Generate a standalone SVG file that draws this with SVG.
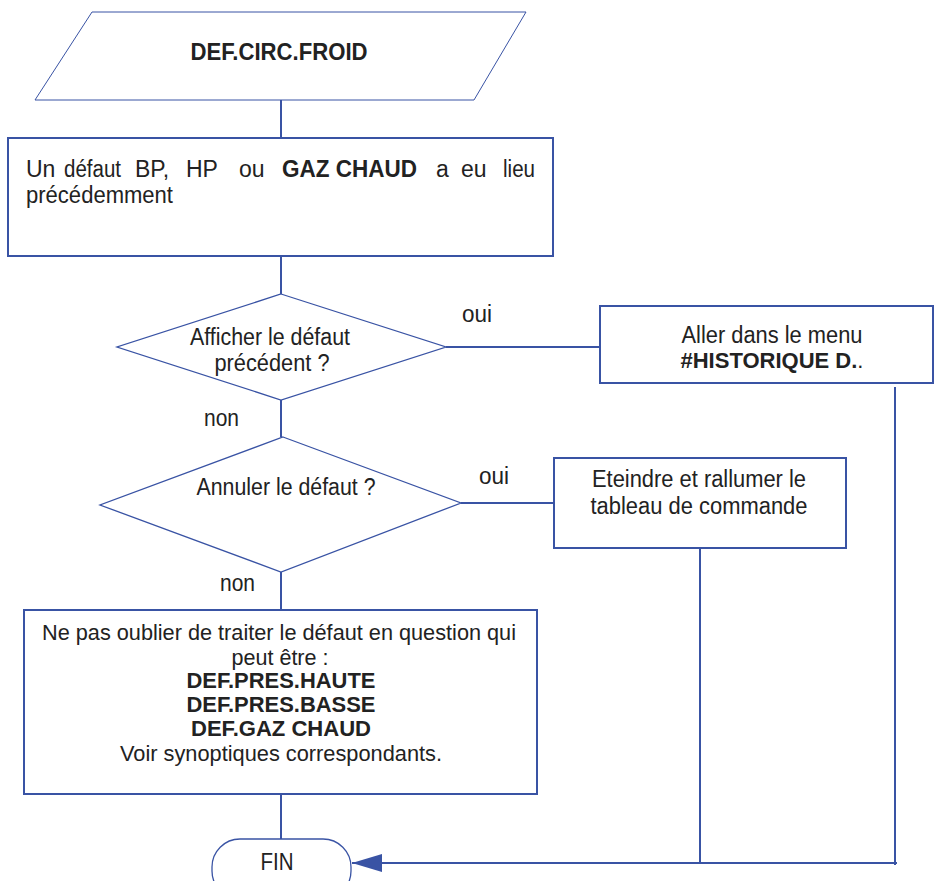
<svg xmlns="http://www.w3.org/2000/svg" width="934" height="881" viewBox="0 0 934 881">
  <style>
    .shape { fill: #ffffff; stroke: #3953a4; stroke-width: 2; }
    .thin { fill: #ffffff; stroke: #3953a4; stroke-width: 1.3; }
    .wire { fill: none; stroke: #3953a4; stroke-width: 2; }
    text { font-family: "Liberation Sans", Arial, sans-serif; font-size: 23px; fill: #222222; }
    .b { font-weight: bold; }
    .c { text-anchor: middle; }
    .s { font-size: 22px; }
  </style>
  <defs>
    <marker id="arrow" markerUnits="userSpaceOnUse" markerWidth="31" markerHeight="20" refX="30" refY="10" orient="auto">
      <path d="M0,1 L30,10 L0,19 Z" fill="#3953a4"/>
    </marker>
  </defs>

  <!-- connectors -->
  <g id="connectors">
    <line class="wire" x1="281" y1="100" x2="281" y2="138"/>
    <line class="wire" x1="281" y1="256" x2="281" y2="294"/>
    <line class="wire" x1="446" y1="347" x2="600" y2="347"/>
    <line class="wire" x1="281" y1="400" x2="281" y2="437"/>
    <line class="wire" x1="461" y1="503" x2="554" y2="503"/>
    <line class="wire" x1="281" y1="572" x2="281" y2="610"/>
    <line class="wire" x1="281" y1="794" x2="281" y2="839"/>
    <line class="wire" x1="700" y1="548" x2="700" y2="863"/>
    <line class="wire" x1="895" y1="387" x2="895" y2="865"/>
    <line class="wire" x1="897" y1="863" x2="352" y2="863" marker-end="url(#arrow)"/>
  </g>

  <!-- start: input parallelogram -->
  <g id="start">
    <polygon points="92,12 526,12 474,100 35,100" fill="#ffffff" stroke="#3953a4" stroke-width="1"/>
    <text class="b c" x="279" y="60" textLength="177" lengthAdjust="spacingAndGlyphs">DEF.CIRC.FROID</text>
  </g>

  <!-- previous fault statement -->
  <g id="previous-fault">
    <rect class="shape" x="8" y="138" width="545" height="118"/>
    <text x="26" y="177">Un</text>
    <text x="64" y="177" textLength="57" lengthAdjust="spacingAndGlyphs">défaut</text>
    <text x="135" y="177">BP,</text>
    <text x="186" y="177">HP</text>
    <text x="239" y="177">ou</text>
    <text class="b" x="282" y="177" textLength="135" lengthAdjust="spacingAndGlyphs">GAZ CHAUD</text>
    <text x="436" y="177">a</text>
    <text x="461" y="177">eu</text>
    <text x="503" y="177" textLength="32" lengthAdjust="spacingAndGlyphs">lieu</text>
    <text x="26" y="203" textLength="147" lengthAdjust="spacingAndGlyphs">précédemment</text>
  </g>

  <!-- decision: show previous fault -->
  <g id="ask-show">
    <polygon class="thin" points="281,294 446,347 281,400 117,347"/>
    <text class="c" x="270" y="345" textLength="160" lengthAdjust="spacingAndGlyphs">Afficher le défaut</text>
    <text class="c" x="272" y="371" textLength="115" lengthAdjust="spacingAndGlyphs">précédent ?</text>
  </g>
  <text x="462" y="322" textLength="30" lengthAdjust="spacingAndGlyphs">oui</text>
  <text x="204" y="426" textLength="35" lengthAdjust="spacingAndGlyphs">non</text>

  <!-- go to history menu -->
  <g id="history-menu">
    <rect class="shape" x="600" y="306" width="333" height="77"/>
    <text class="c" x="772" y="343" textLength="181" lengthAdjust="spacingAndGlyphs">Aller dans le menu</text>
    <text class="c s" x="772" y="368"><tspan class="b">#HISTORIQUE D.</tspan>.</text>
  </g>

  <!-- decision: cancel fault -->
  <g id="ask-cancel">
    <polygon class="thin" points="283,437 461,503 281,572 100,505"/>
    <text class="c" x="286" y="495" textLength="179" lengthAdjust="spacingAndGlyphs">Annuler le défaut ?</text>
  </g>
  <text x="479" y="484" textLength="30" lengthAdjust="spacingAndGlyphs">oui</text>
  <text x="220" y="591" textLength="35" lengthAdjust="spacingAndGlyphs">non</text>

  <!-- restart control panel -->
  <g id="restart-panel">
    <rect class="shape" x="554" y="458" width="292" height="90"/>
    <text class="c" x="699" y="487" textLength="214" lengthAdjust="spacingAndGlyphs">Eteindre et rallumer le</text>
    <text class="c" x="699" y="514" textLength="217" lengthAdjust="spacingAndGlyphs">tableau de commande</text>
  </g>

  <!-- reminder box -->
  <g id="reminder">
    <rect class="shape" x="24" y="610" width="513" height="184"/>
    <text class="c s" x="279" y="640" textLength="474" lengthAdjust="spacingAndGlyphs">Ne pas oublier de traiter le défaut en question qui</text>
    <text class="c s" x="280" y="665" textLength="97" lengthAdjust="spacingAndGlyphs">peut être :</text>
    <text class="b c s" x="281" y="688" textLength="189" lengthAdjust="spacingAndGlyphs">DEF.PRES.HAUTE</text>
    <text class="b c s" x="281" y="712" textLength="189" lengthAdjust="spacingAndGlyphs">DEF.PRES.BASSE</text>
    <text class="b c s" x="281" y="736" textLength="180" lengthAdjust="spacingAndGlyphs">DEF.GAZ CHAUD</text>
    <text class="c s" x="281" y="761" textLength="322" lengthAdjust="spacingAndGlyphs">Voir synoptiques correspondants.</text>
  </g>

  <!-- end terminal -->
  <g id="end">
    <rect x="212" y="839" width="139" height="60" rx="28" ry="28" fill="#ffffff" stroke="#3953a4" stroke-width="1.3"/>
    <text class="c" x="277" y="870" textLength="33" lengthAdjust="spacingAndGlyphs">FIN</text>
  </g>
</svg>
